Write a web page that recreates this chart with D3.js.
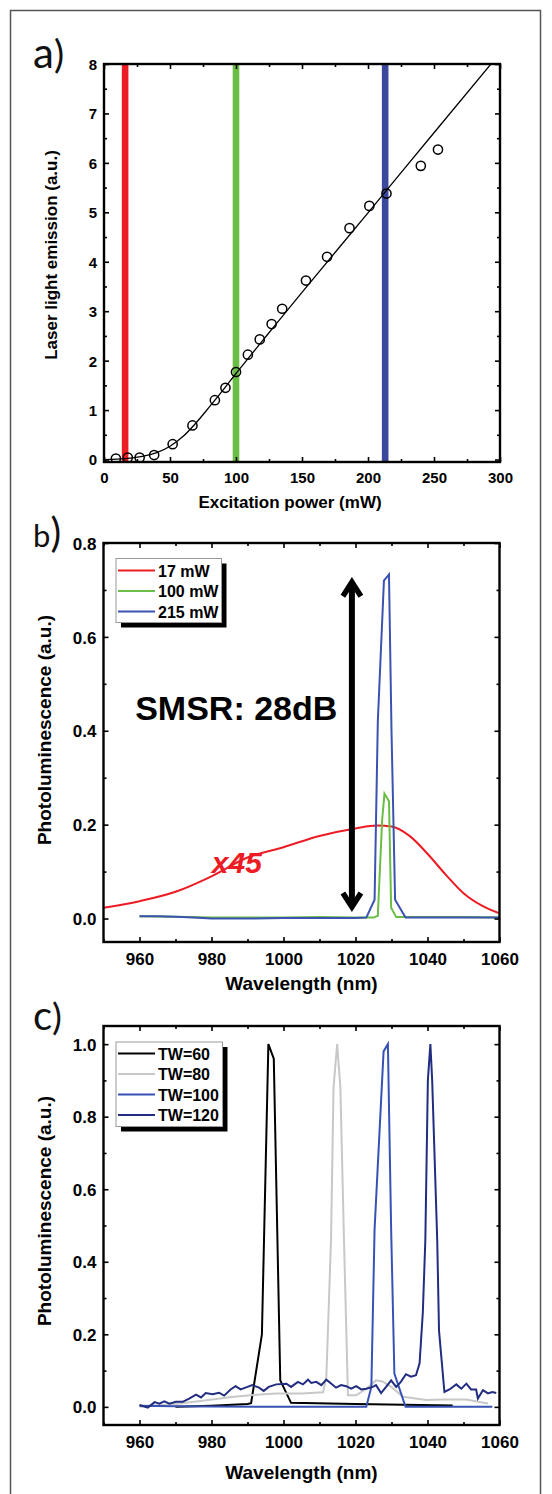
<!DOCTYPE html>
<html><head><meta charset="utf-8">
<script src="https://cdn.jsdelivr.net/npm/d3@7"></script>
<style>html,body{margin:0;padding:0;background:#fff;} svg{display:block;}</style>
</head><body>
<script>
// ---------------- Panel a data ----------------
const powerMW   = [9, 18, 27, 38, 52, 67, 84, 92, 100, 109, 118, 127, 135, 153, 169, 186, 201, 214, 240, 253];
const emission  = [0.02, 0.04, 0.04, 0.09, 0.31, 0.69, 1.20, 1.45, 1.77, 2.12, 2.43, 2.74, 3.05, 3.62, 4.10, 4.68, 5.13, 5.38, 5.94, 6.27];
const fitPower  = [0, 10, 20, 30, 40, 50, 60, 70, 80, 90, 100, 110, 120, 130, 150, 200, 250, 300];
const fitEmission = [0.0, 0.01, 0.03, 0.07, 0.14, 0.27, 0.47, 0.75, 1.07, 1.40, 1.74, 2.07, 2.40, 2.73, 3.38, 4.99, 6.61, 8.22];
const markerPower = [16, 100, 213];
const markerColor = ["#ec1c24", "#6abd45", "#3a479c"];
const aXTicks = [0, 50, 100, 150, 200, 250, 300];
const aXMinor = [25, 75, 125, 175, 225, 275];
const aYTicks = [0, 1, 2, 3, 4, 5, 6, 7, 8];
const aYMinor = [0.5, 1.5, 2.5, 3.5, 4.5, 5.5, 6.5, 7.5];

// ---------------- Panel b data ----------------
const b17mW = [[950,0.023],[960,0.037],[970,0.057],[980,0.090],[990,0.130],[1000,0.152],[1010,0.176],[1020,0.192],[1026,0.198],[1030,0.196],[1035,0.176],[1040,0.138],[1045,0.094],[1050,0.054],[1055,0.028],[1060,0.011]];
const b100mW = [[960,0.005],[970,0.004],[980,0.002],[990,0.002],[1000,0.002],[1010,0.003],[1020,0.002],[1025,0.002],[1026.2,0.006],[1027.4,0.21],[1028.05,0.266],[1029.3,0.25],[1029.9,0.023],[1031.3,0.003],[1040,0.003],[1050,0.003],[1060,0.002]];
const b215mW = [[960,0.005],[965,0.005],[970,0.004],[975,0.002],[980,0.0],[990,0.0],[1000,0.001],[1010,0.001],[1020,0.001],[1023,0.002],[1025.3,0.04],[1026.2,0.42],[1027.9,0.72],[1029.3,0.733],[1030.0,0.40],[1031.0,0.04],[1033.9,0.002],[1040,0.002],[1050,0.002],[1060,0.002]];
const bLegend = ["17 mW", "100 mW", "215 mW"];
const bColors = ["#ec1c24", "#6abd45", "#3a52b0"];
const bArrow = {wl: 1019, from: 0.016, to: 0.725};
const bNotes = [{text: "SMSR: 28dB", wl: 958.8, v: 0.423}, {text: "x45", wl: 980.1, v: 0.096}];
const bXTicks = [960, 980, 1000, 1020, 1040, 1060];
const bXMinor = [950, 970, 990, 1010, 1030, 1050];
const bYTicks = [0.0, 0.2, 0.4, 0.6, 0.8];
const bYMinor = [0.1, 0.3, 0.5, 0.7];

// ---------------- Panel c data ----------------
const cTW60 = [[970,0.0],[980,0.003],[990,0.008],[991,0.01],[994,0.2],[995.8,1.0],[997.3,0.96],[999.1,0.073],[1002.1,0.011],[1020,0.008],[1047,0.004]];
const cTW80 = [[960,0.0],[970,0.008],[976.9,0.016],[986.2,0.028],[994.5,0.035],[998,0.037],[1005,0.037],[1011.0,0.04],[1011.9,0.083],[1013.2,0.46],[1013.9,0.88],[1014.9,1.0],[1015.8,0.88],[1016.8,0.46],[1017.9,0.032],[1020.2,0.032],[1023,0.05],[1025.7,0.073],[1027.5,0.07],[1029.8,0.056],[1033.2,0.028],[1039.6,0.019],[1044.3,0.02],[1050.7,0.02],[1056.8,0.009]];
const cTW100 = [[960,0.003],[970,0.002],[980,0.001],[1000,0.0],[1020,0.0],[1023,0.0],[1024.4,0.055],[1025.3,0.49],[1027.8,0.98],[1029,1.0],[1029.9,0.49],[1030.8,0.092],[1033.9,0.0],[1045,0.0],[1058,0.0]];
const cTW120 = [[960.0,0.005],[962.3,-0.002],[964.2,0.013],[965.5,0.009],[966.9,0.015],[968.3,0.009],[970.1,0.014],[972.0,0.014],[973.8,0.023],[975.7,0.034],[977.1,0.026],[978.4,0.038],[980.3,0.035],[982.1,0.039],[983.5,0.031],[985.3,0.048],[986.7,0.057],[988.1,0.048],[990.0,0.055],[991.3,0.060],[993.2,0.053],[994.5,0.044],[995.9,0.055],[998.0,0.062],[1000.8,0.064],[1002.1,0.055],[1004.0,0.069],[1005.4,0.062],[1006.8,0.075],[1007.7,0.066],[1009.1,0.069],[1010.5,0.060],[1011.9,0.075],[1013.3,0.064],[1014.6,0.053],[1016.0,0.060],[1017.4,0.057],[1018.8,0.050],[1020.2,0.057],[1021.6,0.048],[1023.0,0.050],[1024.8,0.055],[1025.7,0.060],[1027.1,0.038],[1028.5,0.055],[1029.9,0.073],[1031.3,0.055],[1032.6,0.069],[1034.0,0.090],[1035.4,0.083],[1036.8,0.087],[1037.8,0.12],[1038.7,0.26],[1039.4,0.46],[1040.1,0.9],[1040.8,1.0],[1041.3,0.9],[1042.7,0.46],[1043.2,0.21],[1044.7,0.041],[1046.1,0.048],[1048.0,0.062],[1049.4,0.050],[1050.8,0.064],[1052.1,0.048],[1053.5,0.048],[1054.0,0.023],[1055.4,0.046],[1056.8,0.037],[1058.0,0.041],[1059.1,0.038]];
const cLegend = ["TW=60", "TW=80", "TW=100", "TW=120"];
const cColors = ["#000000", "#c8c8c8", "#3752b4", "#222d80"];
const cXTicks = [960, 980, 1000, 1020, 1040, 1060];
const cXMinor = [950, 970, 990, 1010, 1030, 1050];
const cYTicks = [0.0, 0.2, 0.4, 0.6, 0.8, 1.0];
const cYMinor = [0.1, 0.3, 0.5, 0.7, 0.9];

// ---------------- drawing ----------------
const W = 552, H = 1494;
const FONT = "'Liberation Sans', Arial, sans-serif";
const NOFMT = () => "";
const svg = d3.select("body").append("svg").attr("width", W).attr("height", H);
svg.append("rect").attr("width", W).attr("height", H).attr("fill", "#fff");
svg.append("rect").attr("x", 10.5).attr("y", 10.5).attr("width", 530).attr("height", 1520)
  .attr("fill", "none").attr("stroke", "#555").attr("stroke-width", 1.5);

function axes(g, x, y, o) {
  const [xl, xr] = x.range(), [yb, yt] = y.range();
  const style = sel => { sel.select(".domain").remove(); sel.selectAll("line").attr("stroke", "#000").attr("stroke-width", 1.6); };
  // minor
  g.append("g").attr("transform", `translate(0,${yb})`).call(d3.axisBottom(x).tickValues(o.xMinor).tickSizeInner(-3).tickSizeOuter(0).tickFormat(NOFMT)).call(style);
  g.append("g").attr("transform", `translate(0,${yt})`).call(d3.axisTop(x).tickValues(o.xMinor).tickSizeInner(-3).tickSizeOuter(0).tickFormat(NOFMT)).call(style);
  g.append("g").attr("transform", `translate(${xl},0)`).call(d3.axisLeft(y).tickValues(o.yMinor).tickSizeInner(-3).tickSizeOuter(0).tickFormat(NOFMT)).call(style);
  g.append("g").attr("transform", `translate(${xr},0)`).call(d3.axisRight(y).tickValues(o.yMinor).tickSizeInner(-3).tickSizeOuter(0).tickFormat(NOFMT)).call(style);
  // major
  const bx = g.append("g").attr("transform", `translate(0,${yb})`).call(d3.axisBottom(x).tickValues(o.xTicks).tickSizeInner(-5).tickSizeOuter(0).tickFormat(o.xFmt)).call(style);
  bx.selectAll("text").attr("y", o.xLabelY).attr("dy", null).attr("font-family", FONT).attr("font-weight", "bold").attr("font-size", o.tickFs).attr("fill", "#000");
  g.append("g").attr("transform", `translate(0,${yt})`).call(d3.axisTop(x).tickValues(o.xTicks).tickSizeInner(-5).tickSizeOuter(0).tickFormat(NOFMT)).call(style);
  const ly = g.append("g").attr("transform", `translate(${xl},0)`).call(d3.axisLeft(y).tickValues(o.yTicks).tickSizeInner(-5).tickSizeOuter(0).tickPadding(7).tickFormat(o.yFmt)).call(style);
  ly.selectAll("text").attr("dy", "0.36em").attr("font-family", FONT).attr("font-weight", "bold").attr("font-size", o.tickFs).attr("fill", "#000");
  g.append("g").attr("transform", `translate(${xr},0)`).call(d3.axisRight(y).tickValues(o.yTicks).tickSizeInner(-5).tickSizeOuter(0).tickFormat(NOFMT)).call(style);
  g.append("rect").attr("x", xl).attr("y", yt).attr("width", xr - xl).attr("height", yb - yt)
    .attr("fill", "none").attr("stroke", "#000").attr("stroke-width", 2.4);
  // titles
  g.append("text").attr("x", (xl + xr) / 2 + o.xTitleDx).attr("y", o.xTitleY).attr("text-anchor", "middle")
    .attr("font-family", FONT).attr("font-weight", "bold").attr("font-size", o.titleFs).text(o.xTitle);
  g.append("text").attr("transform", `translate(${o.yTitleX},${o.yTitleCy}) rotate(-90)`).attr("text-anchor", "middle")
    .attr("font-family", FONT).attr("font-weight", "bold").attr("font-size", o.titleFs).text(o.yTitle);
}

function clip(id, x, y) {
  const [xl, xr] = x.range(), [yb, yt] = y.range();
  svg.append("clipPath").attr("id", id).append("rect").attr("x", xl).attr("y", yt).attr("width", xr - xl).attr("height", yb - yt);
  return `url(#${id})`;
}

function panelLabel(letter, x, y, fsL, fsP) {
  const t = svg.append("text").attr("x", x).attr("y", y).attr("font-family", "Lato, 'Open Sans', sans-serif").attr("fill", "#111");
  t.append("tspan").attr("font-size", fsL).text(letter);
  t.append("tspan").attr("font-size", fsP).text(")");
}

function legend(g, x0, y0, w, h, rowY, labels, colors) {
  g.append("rect").attr("x", x0 + 5).attr("y", y0 + 5).attr("width", w).attr("height", h).attr("fill", "#000");
  g.append("rect").attr("x", x0).attr("y", y0).attr("width", w).attr("height", h).attr("fill", "#fff").attr("stroke", "#999").attr("stroke-width", 1);
  labels.forEach((lab, i) => {
    const yy = y0 + rowY[i];
    g.append("line").attr("x1", x0 + 2).attr("x2", x0 + 39).attr("y1", yy).attr("y2", yy).attr("stroke", colors[i]).attr("stroke-width", 2.2);
    g.append("text").attr("x", x0 + 42).attr("y", yy + 6).attr("font-family", FONT).attr("font-weight", "bold").attr("font-size", 16).text(lab);
  });
}

// ===== Panel a =====
{
  const x = d3.scaleLinear().domain([0, 300]).range([104, 500]);
  const y = d3.scaleLinear().domain([-0.05, 8]).range([462, 64]);
  const g = svg.append("g");
  const cp = clip("clipA", x, y);
  const pg = g.append("g").attr("clip-path", cp);
  pg.selectAll("rect.bar").data(markerPower).join("rect").attr("class", "bar")
    .attr("x", d => x(d) - 3.3).attr("width", 6.6).attr("y", y(8)).attr("height", y(-0.05) - y(8) - 1)
    .attr("fill", (d, i) => markerColor[i]);
  const fit = fitPower.map((p, i) => [p, fitEmission[i]]);
  pg.append("path").datum(fit).attr("fill", "none").attr("stroke", "#000").attr("stroke-width", 1.3)
    .attr("d", d3.line().x(d => x(d[0])).y(d => y(d[1])).curve(d3.curveMonotoneX));
  pg.selectAll("circle").data(powerMW.map((p, i) => [p, emission[i]])).join("circle")
    .attr("cx", d => x(d[0])).attr("cy", d => y(d[1])).attr("r", 4.6)
    .attr("fill", "none").attr("stroke", "#000").attr("stroke-width", 1.5);
  axes(g, x, y, {
    xTicks: aXTicks, xMinor: aXMinor, yTicks: aYTicks, yMinor: aYMinor,
    xFmt: d3.format("d"), yFmt: d3.format("d"), tickFs: 15, xLabelY: 21,
    titleFs: 17, xTitle: "Excitation power (mW)", xTitleY: 508, xTitleDx: -12,
    yTitle: "Laser light emission (a.u.)", yTitleX: 57, yTitleCy: 255
  });
  panelLabel("a", 33, 68, 42, 38);
}

// ===== Panel b =====
{
  const x = d3.scaleLinear().domain([950, 1060]).range([103.5, 499.5]);
  const y = d3.scaleLinear().domain([-0.05, 0.8]).range([942, 543]);
  const g = svg.append("g");
  const cp = clip("clipB", x, y);
  const pg = g.append("g").attr("clip-path", cp);
  pg.append("path").datum(b17mW).attr("fill", "none").attr("stroke", bColors[0]).attr("stroke-width", 2)
    .attr("d", d3.line().x(d => x(d[0])).y(d => y(d[1])).curve(d3.curveMonotoneX));
  const lin = d3.line().x(d => x(d[0])).y(d => y(d[1]));
  pg.append("path").datum(b100mW).attr("fill", "none").attr("stroke", bColors[1]).attr("stroke-width", 2).attr("d", lin);
  pg.append("path").datum(b215mW).attr("fill", "none").attr("stroke", bColors[2]).attr("stroke-width", 2).attr("d", lin);
  // arrow
  const ax = x(bArrow.wl), yTop = y(bArrow.to), yBot = y(bArrow.from);
  g.append("line").attr("x1", ax).attr("x2", ax).attr("y1", yTop + 4).attr("y2", yBot - 4).attr("stroke", "#000").attr("stroke-width", 6);
  g.append("path").attr("d", `M${ax - 9},${yTop + 18} L${ax},${yTop + 4} L${ax + 9},${yTop + 18}`)
    .attr("fill", "none").attr("stroke", "#000").attr("stroke-width", 5.5).attr("stroke-linejoin", "miter");
  g.append("path").attr("d", `M${ax - 9},${yBot - 18} L${ax},${yBot - 4} L${ax + 9},${yBot - 18}`)
    .attr("fill", "none").attr("stroke", "#000").attr("stroke-width", 5.5).attr("stroke-linejoin", "miter");
  g.append("text").attr("x", x(bNotes[0].wl)).attr("y", y(bNotes[0].v)).attr("font-family", FONT).attr("font-weight", "bold")
    .attr("font-size", 34).attr("fill", "#000").text(bNotes[0].text);
  g.append("text").attr("x", x(bNotes[1].wl)).attr("y", y(bNotes[1].v)).attr("font-family", FONT).attr("font-weight", "bold")
    .attr("font-style", "italic").attr("font-size", 30).attr("fill", bColors[0]).text(bNotes[1].text);
  legend(g, 116, 558.5, 105.5, 64, [12, 32.5, 53], bLegend, bColors);
  axes(g, x, y, {
    xTicks: bXTicks, xMinor: bXMinor, yTicks: bYTicks, yMinor: bYMinor,
    xFmt: d3.format("d"), yFmt: d3.format(".1f"), tickFs: 17, xLabelY: 23,
    titleFs: 19, xTitle: "Wavelength (nm)", xTitleY: 990, xTitleDx: 0,
    yTitle: "Photoluminescence (a.u.)", yTitleX: 51, yTitleCy: 730
  });
  panelLabel("b", 33, 547, 31, 40);
}

// ===== Panel c =====
{
  const x = d3.scaleLinear().domain([950, 1060]).range([103.5, 499.5]);
  const y = d3.scaleLinear().domain([-0.05, 1.05]).range([1425, 1026]);
  const g = svg.append("g");
  const cp = clip("clipC", x, y);
  const pg = g.append("g").attr("clip-path", cp);
  const lin = d3.line().x(d => x(d[0])).y(d => y(d[1]));
  [cTW60, cTW80, cTW100, cTW120].forEach((s, i) => {
    pg.append("path").datum(s).attr("fill", "none").attr("stroke", cColors[i]).attr("stroke-width", 2).attr("d", lin);
  });
  legend(g, 116, 1042, 106.5, 84.5, [11.5, 32, 52.5, 73], cLegend, cColors);
  axes(g, x, y, {
    xTicks: cXTicks, xMinor: cXMinor, yTicks: cYTicks, yMinor: cYMinor,
    xFmt: d3.format("d"), yFmt: d3.format(".1f"), tickFs: 17, xLabelY: 23,
    titleFs: 19, xTitle: "Wavelength (nm)", xTitleY: 1479, xTitleDx: 0,
    yTitle: "Photoluminescence (a.u.)", yTitleX: 51, yTitleCy: 1211
  });
  panelLabel("c", 33, 1030, 40, 37);
}
</script>
</body></html>
